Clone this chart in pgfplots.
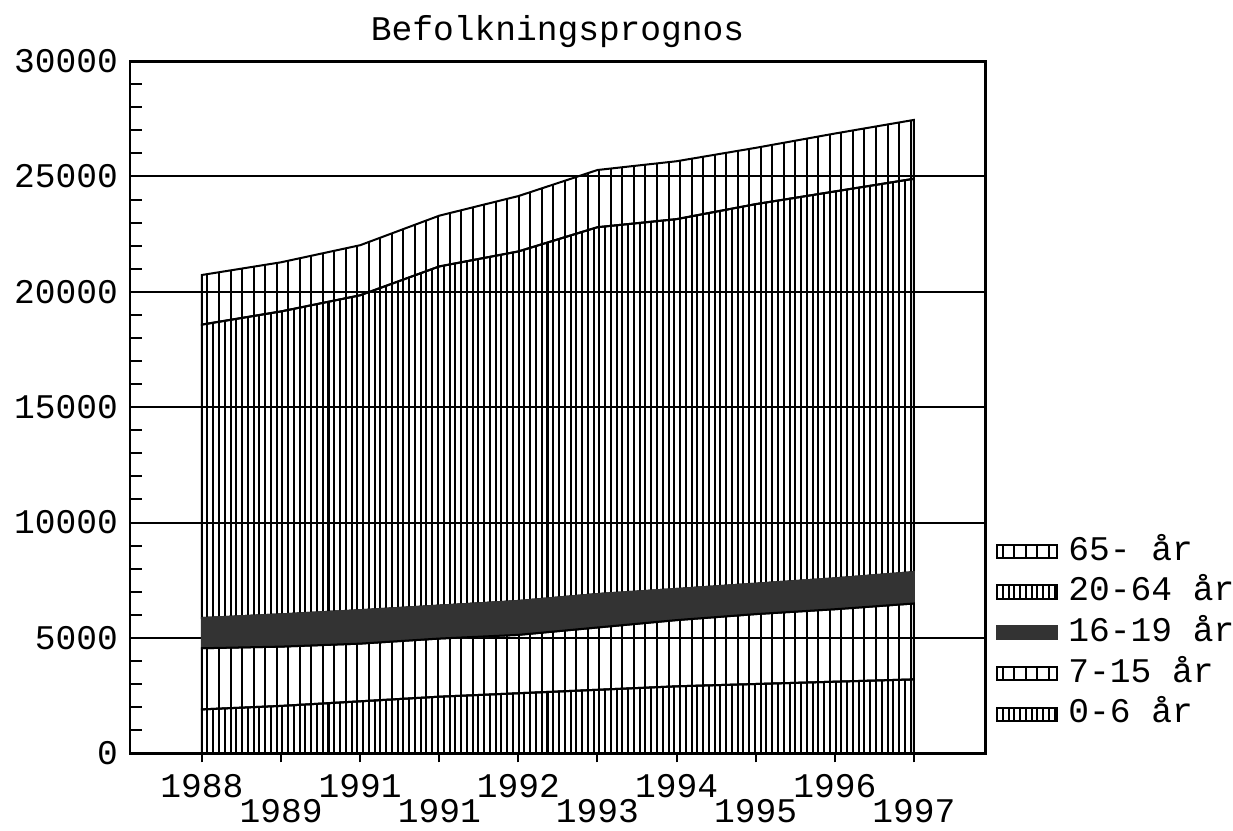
\documentclass[border=0pt]{standalone}
\usepackage{pgfplots}
\pgfplotsset{compat=1.18}
\usepackage{pgfplotstable}
\usepackage{fontspec}
\setmainfont{Liberation Mono}
\usetikzlibrary{patterns.meta}

\pgfplotstableread{
x a b c d e
0 1900 2650 1310 12720 2150
1 2050 2570 1400 13130 2130
2 2250 2500 1450 13650 2170
3 2450 2520 1430 14700 2200
4 2600 2530 1470 15150 2400
5 2750 2700 1450 15900 2480
6 2900 2870 1350 16030 2510
7 3000 3030 1320 16450 2440
8 3100 3140 1340 16770 2510
9 3200 3290 1360 17050 2550
}\data

\tikzset{
  wide/.style={pattern={Lines[angle=90,distance=4.3pt,line width=0.75pt]}},
  narrow/.style={pattern={Lines[angle=90,distance=2.15pt,line width=0.75pt]}},
}

\begin{document}
\fontsize{12.9pt}{15pt}\selectfont
\begin{tikzpicture}
\begin{axis}[
  name=ax, at={(0,0)}, anchor=south west,
  scale only axis, width=319pt, height=258.2pt,
  xmin=-0.91, xmax=9.9, ymin=0, ymax=30000,
  stack plots=y,
  axis line style={line width=1.1pt},
  tick pos=left,
  scaled y ticks=false,
  xtick={0,2,4,6,8}, xticklabels={1988,1991,1992,1994,1996},
  xticklabel style={yshift=0pt},
  extra x ticks={1,3,5,7,9}, extra x tick labels={1989,1991,1993,1995,1997},
  extra x tick style={xticklabel style={yshift=-9.4pt}},
  xtick align=outside,
  x tick style={black, line width=0.75pt},
  major tick length=3.4pt,
  ytick={0,5000,10000,15000,20000,25000,30000},
  yticklabels={0,5000,10000,15000,20000,25000,30000},
  ytick align=inside, minor y tick num=4, minor tick length=4.5pt,
  y tick style={black, line width=0.75pt},
  ymajorgrids, major grid style={black, line width=0.75pt},
  title={Befolkningsprognos},
  title style={anchor=center, at={(0.5,1)}, yshift=4.9pt, inner sep=0pt},
  legend style={at={(1.0117,0.174)}, anchor=west, draw=none, fill=none,
    inner sep=0pt, row sep=3.7pt, column sep=4pt,
    nodes={inner sep=0pt, text height=9pt, text depth=2.5pt}},
  legend cell align=left, reverse legend,
  legend image code/.code={\draw[#1,line width=0.75pt] (0pt,-2.45pt) rectangle (22.4pt,2.45pt);},
]
\addplot[draw=black, line width=0.75pt, narrow] table[x=x,y=a]{\data} \closedcycle;
\addlegendentry{0-6 år}
\addplot[draw=black, line width=0.75pt, wide] table[x=x,y=b]{\data} \closedcycle;
\addlegendentry{7-15 år}
\addplot[draw=black!80, line width=0.75pt, fill=black!80] table[x=x,y=c]{\data} \closedcycle;
\addlegendentry{16-19 år}
\addplot[draw=black, line width=0.75pt, narrow] table[x=x,y=d]{\data} \closedcycle;
\addlegendentry{20-64 år}
\addplot[draw=black, line width=0.75pt, wide] table[x=x,y=e]{\data} \closedcycle;
\addlegendentry{65- år}
\end{axis}
\pgfresetboundingbox
\path[use as bounding box] ([xshift=-48.5pt,yshift=-28.7pt]ax.south west) rectangle ([xshift=92.5pt,yshift=22.8pt]ax.north east);
\end{tikzpicture}
\end{document}
